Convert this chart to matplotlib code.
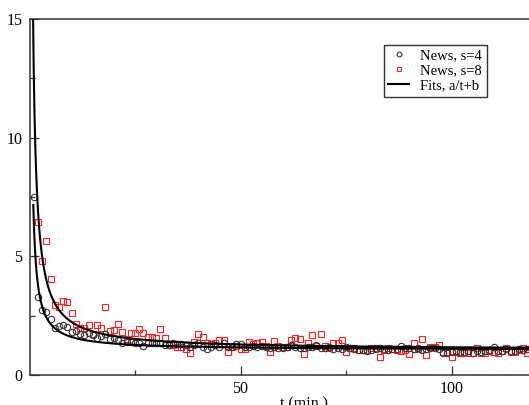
import numpy as np
import matplotlib
matplotlib.use("Agg")
import matplotlib.pyplot as plt
from matplotlib.ticker import FixedLocator

# ---- data ----
t_s4 = list(range(1, 119))
y_s4 = [7.5, 3.3, 2.75, 2.65, 2.35, 1.98, 2.06, 2.1, 2.04, 1.83,
        1.87, 1.71, 1.68, 1.77, 1.68, 1.57, 1.65, 1.71, 1.5, 1.55,
        1.48, 1.33, 1.4, 1.4, 1.36,
        1.33, 1.22, 1.33, 1.33, 1.33, 1.36, 1.26, 1.26, 1.33, 1.29,
        1.29, 1.26, 1.19, 1.26, 1.33, 1.19, 1.08, 1.19, 1.26, 1.19,
        1.33, 1.19, 1.19, 1.29, 1.29, 1.19, 1.19, 1.22, 1.19, 1.22,
        1.19, 1.12, 1.19, 1.15, 1.12, 1.19, 1.26, 1.19, 1.12, 1.12,
        1.19, 1.19, 1.26, 1.12, 1.12, 1.19, 1.1, 1.12, 1.1, 1.19,
        1.15, 1.1, 1.05, 1.05, 1.01, 1.05, 1.1, 1.15, 1.1, 1.05, 1.1,
        1.08, 1.22, 1.12, 1.12, 1.08, 1.12, 1.05, 1.08, 1.12, 1.12,
        1.08, 0.94, 0.94, 0.98, 1.03, 0.98, 0.98, 1.03, 0.94, 1.03,
        0.98, 1.03, 1.05, 1.19, 1.03, 1.03, 1.08, 1.03, 1.03, 1.08,
        1.05, 1.08]

t_s8 = list(range(2, 119))
y_s8 = [6.46, 4.8, 5.65, 4.06, 2.95, 2.88, 3.12, 3.08, 2.63, 2.13,
        1.97, 2.0, 2.1, 1.71, 2.1, 1.99, 2.85, 1.87, 1.9, 2.15,
        1.8, 1.5, 1.78,
        1.76, 1.93, 1.76, 1.62, 1.62, 1.54, 1.93, 1.54, 1.26, 1.26,
        1.19, 1.19, 1.08, 0.91, 1.41, 1.71, 1.62, 1.36, 1.29, 1.33,
        1.48, 1.48, 0.98, 1.19, 1.22, 1.08, 1.08, 1.41, 1.29, 1.33,
        1.38, 1.24, 0.98, 1.43, 1.24, 1.19, 1.19, 1.47, 1.54, 1.52,
        0.87, 1.33, 1.69, 1.24, 1.71, 1.24, 1.12, 1.33, 1.33, 1.47,
        0.98, 1.12, 1.12, 1.05, 1.05, 1.05, 1.12, 1.12, 0.77, 1.05, 1.12,
        1.08, 1.05, 1.03, 1.05, 0.88, 1.36, 1.08, 1.52, 0.84, 1.19,
        1.19, 1.26, 0.98, 0.98, 0.74, 0.98, 0.94, 0.91, 0.94, 0.91,
        1.12, 0.91, 0.91, 1.03, 0.98, 0.94, 1.03, 1.12, 0.98, 0.98,
        1.05, 1.12, 0.91]

# fit parameters (a/t + b)
fit_s4 = (5.5, 1.05, 0.9)    # a, b, t start
fit_s8 = (11.8, 1.05, 0.8)

x_major = [50, 100]
x_minor = [25, 75, 125]
y_major = [0, 5, 10, 15]
y_minor = [2.5, 7.5, 12.5]

plt.rcParams['font.family'] = ['Liberation Serif', 'DejaVu Serif']
plt.rcParams['mathtext.fontset'] = 'stix'

W, H = 529, 405
fig = plt.figure(figsize=(W / 100, H / 100), dpi=100)
x0, x1 = 0.0, 130.0
pxper = 4.22
ax = fig.add_axes([29.5 / W, 30 / H, (x1 - x0) * pxper / W, 356 / H])

ax.plot(t_s4, y_s4, linestyle='none', marker='o', markersize=4.6,
        markerfacecolor='none', markeredgecolor='#333333', markeredgewidth=0.8,
        label='News, s=4', zorder=3)
ax.plot(t_s8, y_s8, linestyle='none', marker='s', markersize=4.4,
        markerfacecolor='none', markeredgecolor='#ff2020', markeredgewidth=0.8,
        label='News, s=8', zorder=2)

for i, (a, b, ts) in enumerate([fit_s4, fit_s8]):
    tt = np.linspace(ts, 130, 2000)
    ax.plot(tt, a / tt + b, color='black', linewidth=1.5,
            label='Fits, a/t+b' if i == 0 else None, zorder=4)

ax.set_xlim(x0, x1)
ax.set_ylim(0, 15)
ax.xaxis.set_major_locator(FixedLocator(x_major))
ax.xaxis.set_minor_locator(FixedLocator(x_minor))
ax.yaxis.set_major_locator(FixedLocator(y_major))
ax.yaxis.set_minor_locator(FixedLocator(y_minor))
ax.tick_params(which='both', direction='in', labelsize=11.5, color='#333333')
ax.tick_params(which='major', length=6.5, width=0.9, pad=4)
ax.tick_params(which='minor', length=3.6, width=0.9)
ax.tick_params(axis='y', pad=5)
for s in ax.spines.values():
    s.set_linewidth(1.1)
    s.set_color('#333333')

ax.set_xlabel('t (min.)', fontsize=11.5, labelpad=0)

leg = ax.legend(loc='upper left', bbox_to_anchor=(384 / W, 1 - 45 / H),
                bbox_transform=fig.transFigure, borderaxespad=0,
                fontsize=10.5, frameon=True, fancybox=False, framealpha=1,
                handlelength=1.4, handletextpad=0.8, labelspacing=0.12,
                borderpad=0.3, markerscale=0.75)
leg.get_frame().set_edgecolor('#333333')
leg.get_frame().set_linewidth(1.0)

fig.savefig('out.png', dpi=100)
